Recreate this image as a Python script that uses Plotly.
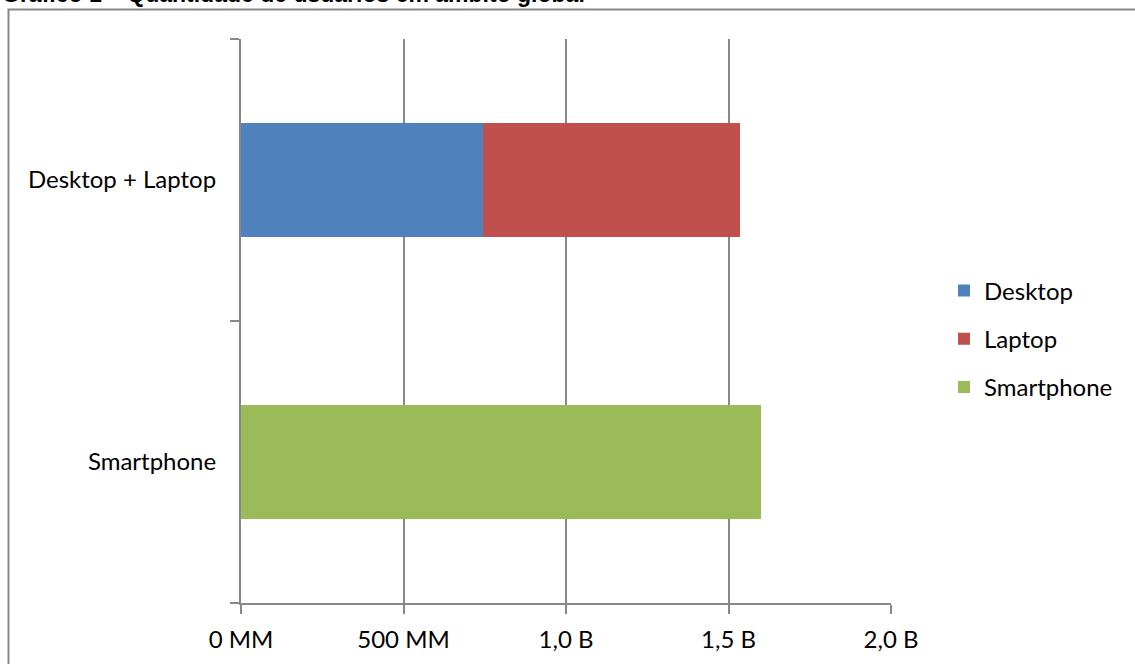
import plotly.graph_objects as go

# Categories (bottom to top on the category axis)
categories = ["Smartphone", "Desktop + Laptop"]

# Users per device, in absolute numbers
desktop_users = [None, 745e6]
laptop_users = [None, 790e6]
smartphone_users = [1600e6, None]

# Value axis ticks
tick_values = [0, 500e6, 1000e6, 1500e6, 2000e6]
tick_labels = ["0 MM", "500 MM", "1,0 B", "1,5 B", "2,0 B"]

title_text = "Gráfico 1 – Quantidade de usuários em âmbito global"

W, H = 1135, 664
L, R, T, B = 241, 891, 39, 603  # plot area in pixels

def px_x(p):
    return (p - L) / (R - L)

def px_y(p):
    return (B - p) / (B - T)

label_font = dict(family="Lato, Noto Sans, sans-serif", size=24, color="#000000")
grid_color = "#888888"

fig = go.Figure()
fig.add_trace(go.Bar(y=categories, x=desktop_users, name="Desktop", orientation="h",
                     marker=dict(color="#4F81BD", line=dict(width=0)), legendgroup="d"))
fig.add_trace(go.Bar(y=categories, x=laptop_users, name="Laptop", orientation="h",
                     marker=dict(color="#C0504D", line=dict(width=0)), legendgroup="l"))
fig.add_trace(go.Bar(y=categories, x=smartphone_users, name="Smartphone", orientation="h",
                     marker=dict(color="#9BBB59", line=dict(width=0)), legendgroup="s"))

fig.update_layout(
    width=W, height=H,
    margin=dict(l=L, r=W - R, t=T, b=H - B, pad=0),
    paper_bgcolor="white", plot_bgcolor="white",
    barmode="stack", bargap=0.596,
    font=label_font,
    showlegend=True,
    legend=dict(
        x=px_x(944), xanchor="left", y=px_y(339), yanchor="middle",
        traceorder="grouped", tracegroupgap=14, itemwidth=30,
        font=label_font, bgcolor="rgba(0,0,0,0)", borderwidth=0,
    ),
    xaxis=dict(
        range=[0, 2000e6], tickvals=tick_values, ticktext=tick_labels,
        showgrid=True, gridcolor=grid_color, gridwidth=1.5,
        showline=True, linecolor=grid_color, linewidth=2,
        ticks="outside", ticklen=9, tickcolor=grid_color, tickwidth=1.5,
        tickfont=label_font, ticklabelstandoff=5, zeroline=False, fixedrange=True,
    ),
    yaxis=dict(
        type="category", categoryorder="array", categoryarray=categories,
        range=[-0.5, 1.5], tickson="boundaries",
        showgrid=False, showline=True, linecolor=grid_color, linewidth=2,
        ticks="outside", ticklen=9, tickcolor=grid_color, tickwidth=1.5,
        tickfont=label_font, ticklabelstandoff=18, zeroline=False, fixedrange=True,
    ),
    shapes=[
        dict(type="rect", xref="paper", yref="paper",
             x0=px_x(8.5), x1=px_x(1145), y0=px_y(675), y1=px_y(9.5),
             line=dict(color=grid_color, width=2), fillcolor="rgba(0,0,0,0)", layer="below"),
    ],
    annotations=[
        dict(text=title_text, xref="paper", yref="paper",
             x=px_x(0), xanchor="left", y=px_y(9), yanchor="bottom",
             showarrow=False,
             font=dict(family="Liberation Sans, Arial, sans-serif", size=23, color="#000000", weight="bold")),
    ],
)

fig.write_html("out.html")
